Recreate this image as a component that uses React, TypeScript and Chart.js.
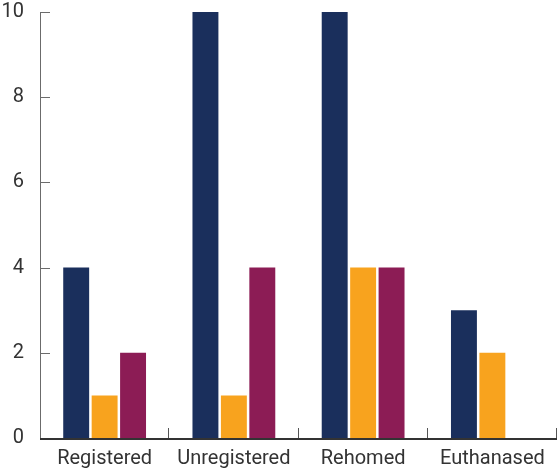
import React, { useEffect, useRef } from "react";
import { Chart, registerables } from "chart.js";

Chart.register(...registerables);

const categories = ["Registered", "Unregistered", "Rehomed", "Euthanased"];
const seriesA = [4, 10, 10, 3];
const seriesB = [1, 1, 4, 2];
const seriesC = [2, 4, 4, 0];
const yTicks = [0, 2, 4, 6, 8, 10];

const innerTicks = {
  id: "innerTicks",
  afterDraw(chart: any) {
    const ctx = chart.ctx;
    const x = chart.scales.x;
    const y = chart.scales.y;
    ctx.save();
    ctx.lineWidth = 1;
    ctx.strokeStyle = "#6b6b6b";
    ctx.beginPath();
    ctx.moveTo(x.left + 0.5, y.top);
    ctx.lineTo(x.left + 0.5, y.bottom);
    yTicks.forEach((v) => {
      const py = Math.round(y.getPixelForValue(v)) + 0.5;
      ctx.moveTo(x.left, py);
      ctx.lineTo(x.left + 10, py);
    });
    ctx.stroke();
    ctx.strokeStyle = "#333333";
    ctx.lineWidth = 2;
    ctx.beginPath();
    ctx.moveTo(x.left, y.bottom + 1);
    ctx.lineTo(x.right, y.bottom + 1);
    ctx.stroke();
    ctx.lineWidth = 1;
    ctx.strokeStyle = "#555555";
    ctx.beginPath();
    const n = categories.length;
    for (let i = 0; i < n; i++) {
      const c = x.getPixelForValue(i);
      const half = (x.right - x.left) / n / 2;
      const px = Math.round(c + half) - 0.5;
      ctx.moveTo(px, y.bottom);
      ctx.lineTo(px, y.bottom - 10);
    }
    ctx.stroke();
    ctx.restore();
  },
};

export default function App() {
  const ref = useRef<HTMLCanvasElement>(null);
  useEffect(() => {
    const chart = new Chart(ref.current!, {
      type: "bar",
      data: {
        labels: categories,
        datasets: [
          { data: seriesA, backgroundColor: "#1a2f5c" },
          { data: seriesB, backgroundColor: "#f8a31e" },
          { data: seriesC, backgroundColor: "#8c1c55" },
        ],
      },
      options: {
        responsive: false,
        animation: false,
        layout: { padding: { top: 12, right: 0, left: 0, bottom: 0 } },
        plugins: { legend: { display: false }, tooltip: { enabled: false } },
        datasets: { bar: { barPercentage: 0.912, categoryPercentage: 0.66 } },
        scales: {
          x: {
            afterFit: (s: any) => {
              s.height = 33;
              s.paddingLeft = 0;
              s.paddingRight = 0;
            },
            grid: { display: false, drawTicks: false },
            border: { display: false },
            ticks: { color: "#333", font: { family: "Roboto", size: 20 }, padding: 9, maxRotation: 0 },
          },
          y: {
            min: 0,
            max: 10,
            afterFit: (s: any) => {
              s.width = 40;
              s.paddingTop = 0;
              s.paddingBottom = 0;
            },
            grid: { display: false, drawTicks: false },
            border: { display: false },
            ticks: {
              stepSize: 2,
              color: "#333",
              font: { family: "Roboto", size: 20 },
              padding: 16,
            },
          },
        },
      },
      plugins: [innerTicks],
    });
    return () => chart.destroy();
  }, []);
  return (
    <div style={{ position: "fixed", left: 0, top: 0, width: 557, height: 471 }}>
      <canvas ref={ref} width={557} height={471} style={{ display: "block" }} />
    </div>
  );
}
